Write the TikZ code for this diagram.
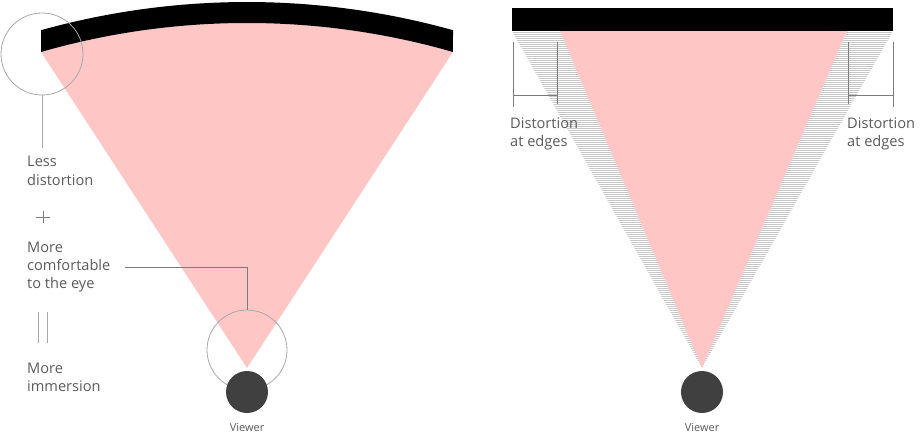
\documentclass[tikz,border=0pt]{standalone}
\usepackage{fontspec}
\setmainfont{Open Sans}
\usepackage{xcolor}
\usetikzlibrary{positioning}
\definecolor{fanpink}{HTML}{FFC6C6}
\definecolor{txtgray}{HTML}{5A5A5A}
\definecolor{ringgray}{HTML}{A8A8A8}
\definecolor{hatchgray}{HTML}{C8C8C8}
\definecolor{viewergray}{HTML}{404040}
\tikzset{label/.style={align=left, anchor=west, inner sep=0pt, text=txtgray,
font=\fontsize{14.6}{18.4}\selectfont},
viewer/.style={circle, fill=viewergray, minimum size=42pt, inner sep=0pt},
vlabel/.style={text=txtgray, font=\fontsize{11}{13}\selectfont, inner sep=0pt},
ring/.style={circle, draw=ringgray, line width=0.8pt, inner sep=0pt},
thin line/.style={draw=txtgray!80, line width=0.6pt}}

\begin{document}
\begin{tikzpicture}[x=1pt, y=1pt]
  \useasboundingbox (0,0) rectangle (920,440);
  % curved screen
  \fill[fanpink] (247,72) -- (41,388) arc[start angle=106.03, end angle=73.97, radius=746] -- cycle;
  \fill[black] (41,388) arc[start angle=106.03, end angle=73.97, radius=746]
    -- (453,409.8) arc[start angle=74.42, end angle=105.58, radius=767] -- cycle;
  \node[ring, minimum size=82pt] (edge) at (42,386) {};
  \node[ring, minimum size=80pt] (lens) at (247,90) {};
  \node[viewer] (eyeL) at (247,48) {};
  \node[vlabel] (viewL) at (247,12) {Viewer};
  \coordinate (tick) at (42,292);
  \draw[ringgray, line width=0.8pt] (edge.south) -- (tick);
  \node[label] (less) at (27,269) {Less\\distortion};
  \draw[thin line] (36,223) -- (50,223) (43,217) -- (43,229);
  \node[label] (comfort) at (27,173) {More\\comfortable\\to the eye};
  \draw[ringgray, line width=0.8pt] (38,97) -- (38,128) (47,97) -- (47,128);
  \node[label] (immerse) at (27,62.5) {More\\immersion};
  \draw[thin line] ([xshift=14pt]comfort.east) -| (lens.north);
  % flat screen
  \begin{scope}
    \clip (512,409) -- (893,409) -- (702,72) -- cycle;
    \foreach \y in {72,74,...,410}
      \draw[hatchgray, line width=0.9pt] (512,\y) -- (893,\y);
  \end{scope}
  \fill[fanpink] (560,409) -- (847,409) -- (702,72) -- cycle;
  \fill[black] (512,409) rectangle (893,432);
  \node[viewer] (eyeR) at (702,48) {};
  \node[vlabel] (viewR) at (702,12) {Viewer};
  \draw[thin line] (513,398) -- (513,333) (557,398) -- (557,336) (513,345) -- (557,345);
  \draw[thin line] (848,398) -- (848,336) (893,398) -- (893,333) (848,345) -- (893,345);
  \node[label] (distL) at (510,306) {Distortion\\at edges};
  \node[label] (distR) at (847,306) {Distortion\\at edges};
\end{tikzpicture}
\end{document}
